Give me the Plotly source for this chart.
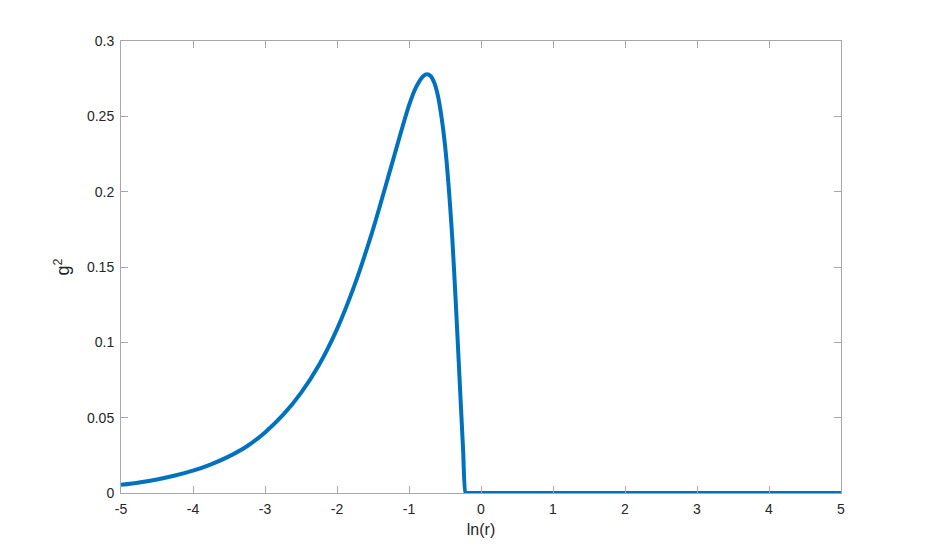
import plotly.graph_objects as go

# Data
x_vals = [-5.0, -4.75, -4.5, -4.25, -4.0, -3.75, -3.5, -3.25, -3.0, -2.75, -2.5,
          -2.25, -2.0, -1.75, -1.5, -1.25, -1.125, -1.0, -0.9, -0.8, -0.75, -0.7,
          -0.65, -0.6, -0.55, -0.5, -0.45, -0.4, -0.35, -0.3, -0.25, -0.215,
          -0.205, 0.0, 2.5, 5.0]
g2_vals = [0.0054, 0.0070, 0.0090, 0.0116, 0.0148, 0.0190, 0.0243, 0.0310, 0.0402, 0.0518, 0.0665,
           0.0850, 0.1088, 0.1388, 0.1750, 0.2163, 0.2373, 0.2573, 0.2695, 0.2768, 0.278, 0.2768,
           0.2725, 0.264, 0.250, 0.231, 0.204, 0.170, 0.126, 0.078, 0.030, 0.0,
           0.0, 0.0, 0.0, 0.0]

x_ticks = [-5, -4, -3, -2, -1, 0, 1, 2, 3, 4, 5]
x_tick_labels = ["-5", "-4", "-3", "-2", "-1", "0", "1", "2", "3", "4", "5"]
y_ticks = [0, 0.05, 0.1, 0.15, 0.2, 0.25, 0.3]
y_tick_labels = ["0", "0.05", "0.1", "0.15", "0.2", "0.25", "0.3"]

FONT = "Liberation Sans, Arial, sans-serif"

fig = go.Figure()
fig.add_trace(go.Scatter(
    x=x_vals, y=g2_vals, mode="lines",
    line=dict(color="#0072BD", width=4, shape="spline", smoothing=0.8),
    showlegend=False, hoverinfo="x+y",
))

axis_common = dict(
    showline=True, linecolor="#a8a8a8", linewidth=1, mirror="ticks",
    ticks="inside", ticklen=7, tickcolor="#a8a8a8", tickwidth=1,
    showgrid=False, zeroline=False, ticklabelstandoff=3,
    tickfont=dict(family=FONT, size=14, color="#262626"),
)

fig.update_layout(
    width=930, height=555,
    paper_bgcolor="white", plot_bgcolor="white",
    margin=dict(l=113, r=97, t=33, b=70),
    xaxis=dict(
        range=[-5, 5], tickvals=x_ticks, ticktext=x_tick_labels,
        title=dict(text="ln(r)", standoff=8,
                   font=dict(family=FONT, size=16, color="#262626")),
        **axis_common,
    ),
    yaxis=dict(
        range=[0, 0.3], tickvals=y_ticks, ticktext=y_tick_labels,
        title=dict(text="g<sup>2</sup>", standoff=12,
                   font=dict(family=FONT, size=18, color="#262626")),
        **axis_common,
    ),
)

fig.write_html("out.html")
